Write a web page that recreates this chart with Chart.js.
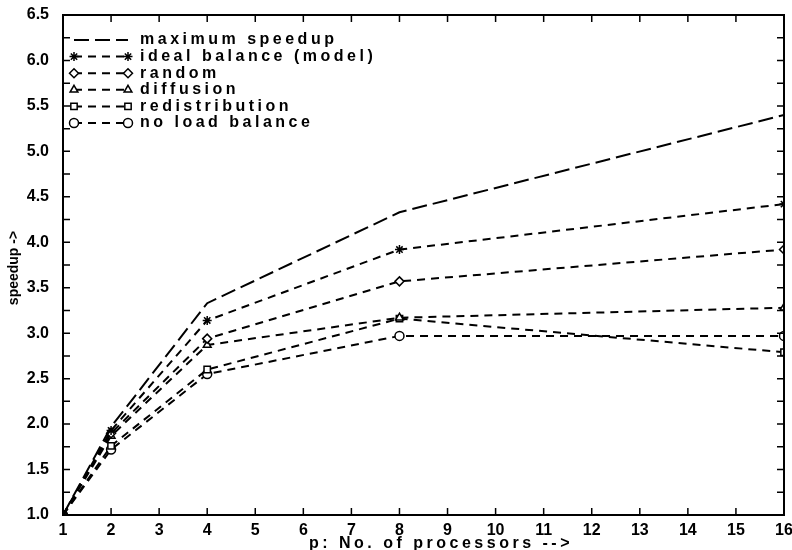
<!DOCTYPE html>
<html>
<head>
<meta charset="utf-8">
<script src="https://cdn.jsdelivr.net/npm/chart.js@4.4.0/dist/chart.umd.min.js"></script>
<style>
  html, body { margin: 0; padding: 0; background: #fff; }
</style>
</head>
<body>
<canvas id="speedupChart" width="792" height="550"></canvas>
<script>
// processors on the x axis
const procs = [1, 2, 4, 8, 16];

// speedup values per method
const maxSpeedup     = [1.0, 1.97, 3.33, 4.33, 5.40];
const idealBalance   = [1.0, 1.93, 3.14, 3.92, 4.42];
const randomLB       = [1.0, 1.90, 2.94, 3.57, 3.92];
const diffusion      = [1.0, 1.87, 2.87, 3.17, 3.28];
const redistribution = [1.0, 1.76, 2.60, 3.16, 2.79];
const noLoadBalance  = [1.0, 1.72, 2.55, 2.97, 2.97];

const seriesNames = ['maximum speedup', 'ideal balance (model)', 'random',
                     'diffusion', 'redistribution', 'no load balance'];

const xTicks = [1, 2, 3, 4, 5, 6, 7, 8, 9, 10, 11, 12, 13, 14, 15, 16];
const yTickLabels = ['1.0', '1.5', '2.0', '2.5', '3.0', '3.5', '4.0', '4.5', '5.0', '5.5', '6.0', '6.5'];

const xTitle = 'p: No. of processors -->';
const yTitle = 'speedup ->';

const FONT = 'Liberation Sans, Arial, sans-serif';

function pts(vals) {
    return procs.map((p, i) => ({ x: p, y: vals[i] }));
}

function serie(label, vals, style, dash) {
    return {
        label: label,
        data: pts(vals),
        borderColor: '#000',
        borderWidth: 2,
        borderDash: dash,
        pointStyle: style || 'circle',
        pointRadius: style ? 4.5 : 0,
        pointBorderColor: '#000',
        pointBackgroundColor: '#fff',
        pointBorderWidth: 1.5,
        fill: false,
        tension: 0
    };
}

// inward ticks + frame + axis titles
const frameTicks = {
    id: 'frameTicks',
    afterDraw(chart) {
        const ctx = chart.ctx;
        const a = chart.chartArea;
        const xs = chart.scales.x;
        const ys = chart.scales.y;
        ctx.save();
        ctx.strokeStyle = '#000';
        ctx.lineWidth = 2;
        ctx.strokeRect(a.left, a.top, a.right - a.left, a.bottom - a.top);
        ctx.lineWidth = 1.5;
        ctx.beginPath();
        xTicks.forEach(v => {
            const px = xs.getPixelForValue(v);
            ctx.moveTo(px, a.bottom); ctx.lineTo(px, a.bottom - 7);
            ctx.moveTo(px, a.top); ctx.lineTo(px, a.top + 7);
        });
        for (let v = 1; v <= 6.5001; v += 0.25) {
            const py = ys.getPixelForValue(v);
            ctx.moveTo(a.left, py); ctx.lineTo(a.left + 7, py);
            ctx.moveTo(a.right, py); ctx.lineTo(a.right - 7, py);
        }
        ctx.stroke();

        ctx.fillStyle = '#000';
        ctx.textBaseline = 'middle';
        ctx.textAlign = 'center';

        // x title, wide lettering
        ctx.font = 'bold 16px ' + FONT;
        ctx.letterSpacing = '3.5px';
        ctx.fillText(xTitle, 441, 544);

        // y title, rotated
        ctx.letterSpacing = '0px';
        ctx.translate(14, (a.top + a.bottom) / 2 + 3);
        ctx.rotate(-Math.PI / 2);
        ctx.font = 'bold 14px ' + FONT;
        ctx.fillText(yTitle, 0, 0);
        ctx.restore();
    }
};

// legend drawn as in the reference: marker, dashes, marker, text
const dashLegend = {
    id: 'dashLegend',
    afterDraw(chart) {
        const ctx = chart.ctx;
        const x0 = 74, x1 = 128, tx = 140;
        let y = 40;
        ctx.save();
        ctx.font = 'bold 16px ' + FONT;
        ctx.letterSpacing = '3.5px';
        ctx.textBaseline = 'middle';
        ctx.fillStyle = '#000';
        chart.data.datasets.forEach(ds => {
            ctx.save();
            ctx.strokeStyle = '#000';
            ctx.lineWidth = 2;
            ctx.setLineDash(ds.borderDash);
            ctx.beginPath();
            ctx.moveTo(x0, y); ctx.lineTo(x1, y);
            ctx.stroke();
            ctx.restore();
            if (ds.pointRadius > 0) {
                const opts = { pointStyle: ds.pointStyle, radius: ds.pointRadius, borderWidth: ds.pointBorderWidth };
                ctx.save();
                ctx.strokeStyle = '#000';
                ctx.fillStyle = '#fff';
                ctx.lineWidth = ds.pointBorderWidth;
                Chart.helpers.drawPoint(ctx, opts, x0, y);
                Chart.helpers.drawPoint(ctx, opts, x1, y);
                ctx.restore();
            }
            ctx.fillText(ds.label, tx, y);
            y += 16.6;
        });
        ctx.restore();
    }
};

const ctx = document.getElementById('speedupChart').getContext('2d');
new Chart(ctx, {
    type: 'line',
    data: {
        datasets: [
            serie(seriesNames[0], maxSpeedup, null, [15, 6]),
            serie(seriesNames[1], idealBalance, 'star', [8, 6]),
            serie(seriesNames[2], randomLB, 'rectRot', [8, 6]),
            serie(seriesNames[3], diffusion, 'triangle', [8, 6]),
            serie(seriesNames[4], redistribution, 'rect', [8, 6]),
            serie(seriesNames[5], noLoadBalance, 'circle', [8, 6])
        ]
    },
    options: {
        responsive: false,
        animation: false,
        layout: { padding: { left: 0, right: 8, top: 15, bottom: 0 } },
        plugins: {
            legend: { display: false },
            tooltip: { enabled: false }
        },
        scales: {
            x: {
                type: 'linear',
                min: 1,
                max: 16,
                grid: { display: false, drawTicks: false },
                border: { display: false },
                afterBuildTicks: s => { s.ticks = xTicks.map(v => ({ value: v })); },
                ticks: {
                    padding: 6,
                    color: '#000',
                    font: { family: FONT, size: 16, weight: 'bold' },
                    maxRotation: 0,
                    autoSkip: false
                },
                afterFit: s => {
                    s.height = 35;
                    s.paddingLeft = 0;
                    s.paddingRight = 0;
                }
            },
            y: {
                type: 'linear',
                min: 1,
                max: 6.5,
                grid: { display: false, drawTicks: false },
                border: { display: false },
                afterBuildTicks: s => { s.ticks = yTickLabels.map(t => ({ value: parseFloat(t) })); },
                ticks: {
                    padding: 14,
                    color: '#000',
                    font: { family: FONT, size: 16, weight: 'bold' },
                    callback: v => v.toFixed(1)
                },
                afterFit: s => {
                    s.width = 63;
                    s.paddingTop = 0;
                    s.paddingBottom = 0;
                }
            }
        }
    },
    plugins: [frameTicks, dashLegend]
});
</script>
</body>
</html>
